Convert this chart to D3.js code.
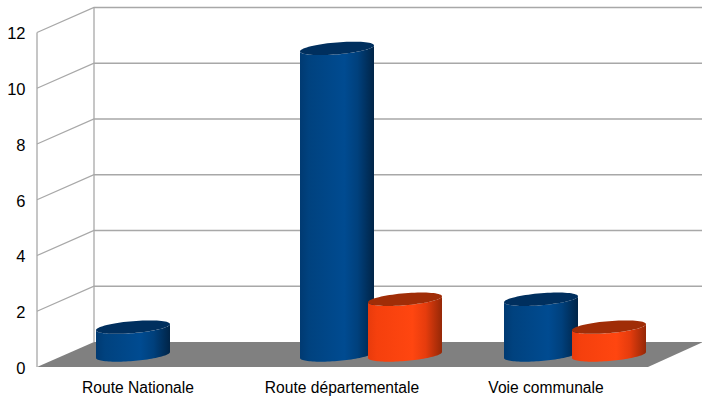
<!DOCTYPE html>
<html><head><meta charset="utf-8">
<script src="https://cdn.jsdelivr.net/npm/d3@7/dist/d3.min.js"></script>
<style>html,body{margin:0;padding:0;background:#fff}svg{display:block}
text{font-family:"Liberation Sans",Arial,sans-serif;fill:#000}</style></head>
<body><svg id="c" width="702" height="401"></svg>
<script>
const categories = ["Route Nationale","Route départementale","Voie communale"];
const seriesBlue = [1,11,2];
const seriesOrange = [0,2,1];
const yTicks = [0,2,4,6,8,10,12];

const svg = d3.select("#c");
const y = d3.scaleLinear().domain([0,12]).range([367,32.5]);
const x = d3.scaleBand().domain(categories).range([36,648]);
const depth = {dx:57, dy:-25};
const right = 702;
const grid = "#a8a8a8";

const defs = svg.append("defs");
function grad(id, stops){
  const g = defs.append("linearGradient").attr("id",id).attr("x1",0).attr("x2",1).attr("y1",0).attr("y2",0);
  stops.forEach(s=>g.append("stop").attr("offset",s[0]).attr("stop-color",s[1]));
}
grad("gb",[[0,"#003a72"],[0.12,"#00427f"],[0.6,"#004b91"],[0.78,"#00407c"],[1,"#002447"]]);
grad("go",[[0,"#e83b0c"],[0.12,"#f5400d"],[0.6,"#ff4610"],[0.78,"#e63c0d"],[1,"#952807"]]);

// floor
svg.append("polygon").attr("fill","#808080").attr("points",[
  [x.range()[0]+1,y(0)],[x.range()[0]+1+depth.dx,y(0)+depth.dy],[right+1,y(0)+depth.dy],[x.range()[1],y(0)]
].join(" "));

// walls
const gl = svg.append("g").attr("stroke",grid).attr("stroke-width",1.3).attr("fill","none");
const x0 = 37, xb = x0+depth.dx;
yTicks.forEach(t=>{
  const yy=y(t);
  if(t>0) gl.append("path").attr("d",`M${x0},${yy}L${xb},${yy+depth.dy}L${right},${yy+depth.dy}`);
});
gl.append("line").attr("x1",x0).attr("x2",x0).attr("y1",y(12)).attr("y2",y(0));
gl.append("line").attr("x1",xb).attr("x2",xb).attr("y1",y(12)+depth.dy).attr("y2",y(0)+depth.dy);

// axes
const ay = svg.append("g").attr("transform",`translate(${x0-11.5},1)`)
  .call(d3.axisLeft(y).tickValues(yTicks).tickFormat(d3.format("d")).tickSize(0).tickPadding(0));
ay.select(".domain").remove();
ay.selectAll("text").attr("font-size",16.5).attr("font-family","Liberation Sans");
const ax = svg.append("g").attr("transform",`translate(0,381.5)`)
  .call(d3.axisBottom(x).tickSize(0).tickPadding(0));
ax.select(".domain").remove();
ax.selectAll("text").attr("font-size",15.6).attr("font-family","Liberation Sans");

// cylinders
const rx=37, skew=3, ry=6, baseY=12;
const pt=(cx,cy,t)=>[cx+rx*Math.cos(t), cy-skew*Math.cos(t)+ry*Math.sin(t)];
const line=d3.line();
const ts=(a,b,n=48)=>d3.range(n+1).map(i=>a+(b-a)*i/n);
function cylinder(cx,v,fill,topFill){
  if(v<=0) return;
  const base=y(0)-baseY;                // centre of bottom ellipse
  const top=base-(y(0)-y(v));
  const front=ts(Math.PI,0);            // left to right along near edge
  const side=[...front.map(t=>pt(cx,top,t)), ...front.slice().reverse().map(t=>pt(cx,base,t))];
  svg.append("path").attr("d",line(side)+"Z").attr("fill",`url(#${fill})`);
  svg.append("path").attr("d",line(ts(0,2*Math.PI,72).map(t=>pt(cx,top,t)))+"Z").attr("fill",topFill);
}
categories.forEach((c,i)=>{
  const m=x(c)+x.bandwidth()/2;
  cylinder(m-5,seriesBlue[i],"gb","#002f5e");
  cylinder(m+63,seriesOrange[i],"go","#a02d07");
});
</script></body></html>
